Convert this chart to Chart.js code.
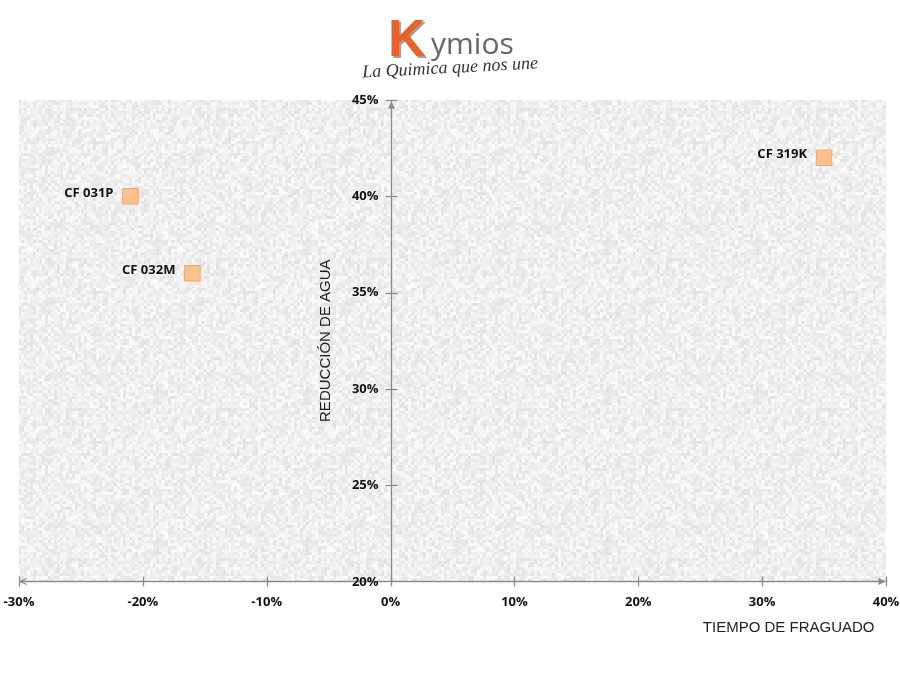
<!DOCTYPE html>
<html><head><meta charset="utf-8">
<script src="https://cdn.jsdelivr.net/npm/chart.js@4/dist/chart.umd.min.js"></script>
<style>
html,body{margin:0;padding:0;background:#fff;}
#wrap{position:relative;width:900px;height:674px;overflow:hidden;}
#c{position:absolute;left:0;top:0;}
#logo{position:absolute;left:360px;top:12px;width:180px;height:70px;}
#logo .k{position:absolute;left:28px;top:-4px;font:bold 52px "Liberation Sans",Arial,sans-serif;color:#E8632A;text-shadow:2px 2px 0 #a0a0a0;}
#logo .rest{position:absolute;left:71px;top:10px;font:30px "Open Sans",sans-serif;color:#666;}
#logo .tag{position:absolute;left:2px;top:45px;font:italic 18px "Liberation Serif",serif;color:#333;white-space:nowrap;transform:rotate(-3deg);}
</style>
</head><body>
<div id="wrap">
<canvas id="c" width="900" height="674"></canvas>
<div id="logo"><span class="k">K</span><span class="rest">ymios</span><span class="tag">La Quimica que nos une</span></div>
</div>
<script>
// ---- data ----
const products = ['CF 031P', 'CF 032M', 'CF 319K'];
const setTime = [-21, -16, 35];          // TIEMPO DE FRAGUADO (%)
const waterReduction = [40, 36, 42];     // REDUCCIÓN DE AGUA (%)
const xTickValues = [-30, -20, -10, 0, 10, 20, 30, 40];
const yTickValues = [20, 25, 30, 35, 40, 45];
const xTitle = 'TIEMPO DE FRAGUADO';
const yTitle = 'REDUCCIÓN DE AGUA';

const points = products.map((p, i) => ({ x: setTime[i], y: waterReduction[i], label: p }));

// deterministic mottled gray texture (decoration only)
function makeTexture() {
  const c = document.createElement('canvas');
  c.width = 150; c.height = 150;
  const g = c.getContext('2d');
  function h(x, y) {
    let n = (x * 374761393 + y * 668265263) | 0;
    n = (n ^ (n >>> 13)) * 1274126177 | 0;
    n = n ^ (n >>> 16);
    return ((n >>> 0) % 1000) / 1000;
  }
  for (let y = 0; y < 150; y += 3) {
    for (let x = 0; x < 150; x += 3) {
      const v = Math.round(226 + h(x, y) * 25);
      g.fillStyle = `rgb(${v},${v},${v})`;
      g.fillRect(x, y, 3, 3);
    }
  }
  return c;
}
const texture = makeTexture();

const AXIS = '#8a8a8a';
const TICK_FONT = 'bold 13px "Open Sans", sans-serif';

const bgPlugin = {
  id: 'bg',
  beforeDraw(chart) {
    const { ctx, chartArea: a } = chart;
    ctx.save();
    ctx.fillStyle = ctx.createPattern(texture, 'repeat');
    ctx.fillRect(a.left, a.top, a.right - a.left, a.bottom - a.top);
    ctx.restore();
  }
};

const axesPlugin = {
  id: 'axesDraw',
  beforeDatasetsDraw(chart) {
    const { ctx, chartArea: a, scales } = chart;
    const xs = scales.x, ys = scales.y;
    const x0 = Math.round(xs.getPixelForValue(0)) + 0.5;
    const yb = Math.round(ys.getPixelForValue(20)) + 0.5;
    const yt = Math.round(ys.getPixelForValue(45)) + 0.5;
    const xl = Math.round(xs.getPixelForValue(-30)) + 0.5;
    const xr = Math.round(xs.getPixelForValue(40)) + 0.5;
    ctx.save();
    ctx.strokeStyle = AXIS;
    ctx.fillStyle = AXIS;
    ctx.lineWidth = 1.3;
    ctx.beginPath(); ctx.moveTo(xl, yb); ctx.lineTo(xr, yb); ctx.stroke();
    ctx.beginPath(); ctx.moveTo(x0, yb); ctx.lineTo(x0, yt); ctx.stroke();
    xTickValues.forEach(v => {
      const px = Math.round(xs.getPixelForValue(v)) + 0.5;
      ctx.beginPath(); ctx.moveTo(px, yb - 5); ctx.lineTo(px, yb + 5); ctx.stroke();
    });
    yTickValues.forEach(v => {
      if (v === 20) return;
      const py = Math.round(ys.getPixelForValue(v)) + 0.5;
      ctx.beginPath(); ctx.moveTo(x0 - 6, py); ctx.lineTo(x0 + 6, py); ctx.stroke();
    });
    // arrows
    ctx.beginPath(); ctx.moveTo(xr - 1, yb); ctx.lineTo(xr - 8, yb - 3.5); ctx.lineTo(xr - 8, yb + 3.5); ctx.closePath(); ctx.fill();
    ctx.beginPath(); ctx.moveTo(xl + 1, yb); ctx.lineTo(xl + 7, yb - 3); ctx.moveTo(xl + 1, yb); ctx.lineTo(xl + 7, yb + 3); ctx.stroke();
    ctx.beginPath(); ctx.moveTo(x0, yt + 1); ctx.lineTo(x0 - 3.5, yt + 8); ctx.lineTo(x0 + 3.5, yt + 8); ctx.closePath(); ctx.fill();

    // y tick labels (left of the centred axis)
    ctx.fillStyle = '#111';
    ctx.font = TICK_FONT;
    ctx.textAlign = 'right';
    ctx.textBaseline = 'middle';
    ys.ticks.forEach(t => {
      const py = ys.getPixelForValue(t.value);
      ctx.fillText(t.label, x0 - 13, py + (t.value === 20 ? 1 : 0));
    });

    // y title
    ctx.fillStyle = '#1e1e1e';
    ctx.font = '15px "Liberation Sans", Arial, sans-serif';
    ctx.textAlign = 'center';
    ctx.save();
    ctx.translate(x0 - 66, (a.top + a.bottom) / 2);
    ctx.rotate(-Math.PI / 2);
    ctx.fillText(yTitle, 0, 0);
    ctx.restore();

    // x title
    ctx.textAlign = 'right';
    ctx.fillText(xTitle, xr - 12, yb + 46);
    ctx.restore();
  }
};

const labelPlugin = {
  id: 'pointLabels',
  afterDatasetsDraw(chart) {
    const { ctx } = chart;
    const meta = chart.getDatasetMeta(0);
    ctx.save();
    ctx.fillStyle = '#111';
    ctx.font = 'bold 13px "Open Sans", sans-serif';
    ctx.textAlign = 'right';
    ctx.textBaseline = 'middle';
    meta.data.forEach((el, i) => {
      ctx.fillText(products[i], el.x - 17, el.y - 3);
    });
    ctx.restore();
  }
};

new Chart(document.getElementById('c'), {
  type: 'scatter',
  data: {
    datasets: [{
      data: points,
      pointStyle: 'rect',
      pointRadius: 11,
      pointHoverRadius: 11,
      backgroundColor: '#FBC08C',
      borderColor: '#E9AB78',
      borderWidth: 1
    }]
  },
  options: {
    responsive: false,
    animation: false,
    devicePixelRatio: 1,
    layout: { padding: { top: 100, left: 19, right: 14, bottom: 51 } },
    plugins: { legend: { display: false }, tooltip: { enabled: false } },
    scales: {
      x: {
        type: 'linear',
        min: -30, max: 40,
        afterBuildTicks: s => { s.ticks = xTickValues.map(v => ({ value: v })); },
        afterFit: s => { s.paddingLeft = 0; s.paddingRight = 0; },
        grid: { display: false, drawTicks: false },
        border: { display: false },
        ticks: {
          padding: 13,
          color: '#111',
          font: { family: '"Open Sans", sans-serif', weight: 'bold', size: 13 },
          callback: v => v + '%',
          maxRotation: 0, autoSkip: false
        }
      },
      y: {
        type: 'linear',
        position: { x: 0 },
        min: 20, max: 45,
        afterBuildTicks: s => { s.ticks = yTickValues.map(v => ({ value: v })); },
        grid: { display: false, drawTicks: false },
        border: { display: false },
        ticks: { display: false, callback: v => v + '%' }
      }
    }
  },
  plugins: [bgPlugin, axesPlugin, labelPlugin]
});
</script>
</body></html>
